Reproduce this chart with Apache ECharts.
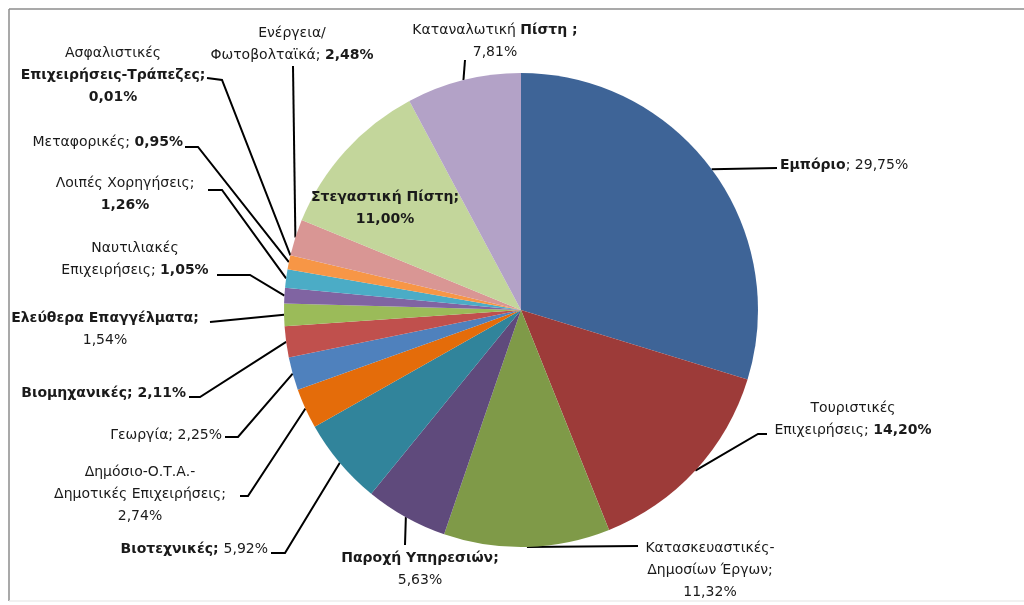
<!DOCTYPE html>
<html>
<head>
<meta charset="utf-8">
<script src="https://cdn.jsdelivr.net/npm/echarts@6/dist/echarts.min.js"></script>
<style>html,body{margin:0;padding:0;background:#fff}#c{width:1024px;height:605px}</style>
</head>
<body>
<div id="c"></div>
<script>
// ---- data ----
const categories = [
  'Εμπόριο', 'Τουριστικές Επιχειρήσεις', 'Κατασκευαστικές-Δημοσίων Έργων', 'Παροχή Υπηρεσιών',
  'Βιοτεχνικές', 'Δημόσιο-Ο.Τ.Α.-Δημοτικές Επιχειρήσεις', 'Γεωργία', 'Βιομηχανικές',
  'Ελεύθερα Επαγγέλματα', 'Ναυτιλιακές Επιχειρήσεις', 'Λοιπές Χορηγήσεις', 'Μεταφορικές',
  'Ασφαλιστικές Επιχειρήσεις-Τράπεζες', 'Ενέργεια/Φωτοβολταϊκά', 'Στεγαστική Πίστη', 'Καταναλωτική Πίστη'
];
const values = [29.75, 14.20, 11.32, 5.63, 5.92, 2.74, 2.25, 2.11, 1.54, 1.05, 1.26, 0.95, 0.01, 2.48, 11.00, 7.81];

// label text templates ({v} = value with comma decimal)
const labelTemplates = [
  '{b|Εμπόριο}{r|; {v}%}',
  '{r|Τουριστικές}\n{r|Επιχειρήσεις; }{b|{v}%}',
  '{r|Κατασκευαστικές-}\n{r|Δημοσίων Έργων;}\n{r|{v}%}',
  '{b|Παροχή Υπηρεσιών;}\n{r|{v}%}',
  '{b|Βιοτεχνικές; }{r|{v}%}',
  '{r|Δημόσιο-Ο.Τ.Α.-}\n{r|Δημοτικές Επιχειρήσεις;}\n{r|{v}%}',
  '{r|Γεωργία; {v}%}',
  '{b|Βιομηχανικές; {v}%}',
  '{b|Ελεύθερα Επαγγέλματα;}\n{r|{v}%}',
  '{r|Ναυτιλιακές}\n{r|Επιχειρήσεις; }{b|{v}%}',
  '{r|Λοιπές Χορηγήσεις;}\n{b|{v}%}',
  '{r|Μεταφορικές; }{b|{v}%}',
  '{r|Ασφαλιστικές}\n{b|Επιχειρήσεις-Τράπεζες;}\n{b|{v}%}',
  '{r|Ενέργεια/}\n{r|Φωτοβολταϊκά; }{b|{v}%}',
  '{b|Στεγαστική Πίστη;}\n{b|{v}%}',
  '{r|Καταναλωτική }{b|Πίστη ;}\n{r|{v}%}'
];

// ---- styling / layout ----
const colors = ['#3E6497', '#9D3B39', '#7F9A48', '#5F4A7C', '#31849B', '#E46C0A', '#4F81BD', '#C0504D',
                '#9BBB59', '#8064A2', '#4BACC6', '#F79646', '#7F7F7F', '#D99694', '#C3D69B', '#B3A2C7'];
// [x, y, align] of label block
const labelPos = [
  [780, 165, 'left'], [853, 419, 'center'], [710, 570, 'center'], [420, 569, 'center'],
  [268, 549, 'right'], [140, 494, 'center'], [222, 435, 'right'], [186, 393, 'right'],
  [105, 329, 'center'], [135, 259, 'center'], [125, 194, 'center'], [183, 142, 'right'],
  [113, 75, 'center'], [292, 44, 'center'], [385, 208, 'center'], [495, 41, 'center']
];
// intermediate label-line points (after the slice edge point), null = no line
const linePts = [
  [[777, 168]],
  [[758, 434], [767, 434]],
  [[638, 546]],
  [[405, 545]],
  [[285, 553], [271, 553]],
  [[248, 496], [240, 496]],
  [[238, 437], [225, 437]],
  [[200, 397], [189, 397]],
  [[210, 322]],
  [[250, 275], [217, 275]],
  [[222, 190], [208, 190]],
  [[198, 147], [185, 147]],
  [[222, 80], [207, 78]],
  [[293, 66]],
  null,
  [[465, 60]]
];

const fmt = v => v.toFixed(2).replace('.', ',');
const data = categories.map((n, i) => ({
  name: n, value: values[i],
  itemStyle: { color: colors[i] },
  labelLine: { show: linePts[i] !== null }
}));

const FONT = 'DejaVu Sans';
const FS = 14;
const chart = echarts.init(document.getElementById('c'), null, { renderer: 'canvas' });
chart.setOption({
  animation: false,
  backgroundColor: '#fff',
  graphic: [
    { type: 'line', silent: true, shape: { x1: 9, y1: 9, x2: 1024, y2: 9 }, style: { stroke: '#8c8c8c', lineWidth: 1.5 } },
    { type: 'line', silent: true, shape: { x1: 9, y1: 9, x2: 9, y2: 601 }, style: { stroke: '#8c8c8c', lineWidth: 1.5 } },
    { type: 'line', silent: true, shape: { x1: 9, y1: 601, x2: 1024, y2: 601 }, style: { stroke: '#ececec', lineWidth: 1.5 } }
  ],
  series: [{
    type: 'pie',
    center: [521, 310],
    radius: 237,
    startAngle: 90,
    clockwise: true,
    avoidLabelOverlap: false,
    minAngle: 0,
    data: data,
    itemStyle: { borderWidth: 0 },
    label: {
      show: true,
      position: 'outside',
      color: '#1a1a1a',
      fontFamily: FONT,
      fontSize: FS,
      lineHeight: 22,
      formatter: p => labelTemplates[p.dataIndex].replace('{v}', fmt(p.value)),
      rich: {
        b: { fontWeight: 'bold', fontSize: FS, fontFamily: FONT, color: '#1a1a1a', lineHeight: 22 },
        r: { fontWeight: 'normal', fontSize: FS, fontFamily: FONT, color: '#1a1a1a', lineHeight: 22 }
      }
    },
    labelLine: { show: true, lineStyle: { color: '#000', width: 2 }, length: 10, length2: 10 },
    labelLayout: function (p) {
      const i = p.dataIndex;
      const L = labelPos[i];
      const res = { x: L[0], y: L[1], align: L[2], verticalAlign: 'middle' };
      if (linePts[i] && p.labelLinePoints) {
        res.labelLinePoints = [p.labelLinePoints[0]].concat(linePts[i]);
      }
      return res;
    }
  }]
});
</script>
</body>
</html>
